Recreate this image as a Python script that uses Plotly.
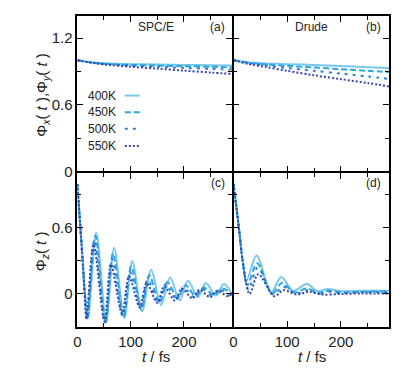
import plotly.graph_objects as go

OFF = 8  # default page body margin
W, H = 405 - OFF, 380 - OFF

labels = ["400K", "450K", "500K", "550K"]
colors = ["#78C8EE", "#2AA6E0", "#2F80D2", "#3646AA"]
dashes = ["solid", "6px,3px", "3px,5px", "2px,2px"]

# Panel (a): SPC/E, Phi_x, Phi_y
a_t = [0, 30, 60, 100, 150, 200, 250, 290]
a_400 = [1.0, 0.98, 0.97, 0.965, 0.962, 0.958, 0.955, 0.953]
a_450 = [1.0, 0.978, 0.966, 0.958, 0.952, 0.946, 0.941, 0.937]
a_500 = [1.0, 0.977, 0.963, 0.952, 0.942, 0.932, 0.923, 0.916]
a_550 = [1.0, 0.975, 0.958, 0.942, 0.925, 0.907, 0.890, 0.877]

# Panel (b): Drude, Phi_x, Phi_y
b_t = [0, 30, 60, 100, 150, 200, 250, 290]
b_400 = [1.0, 0.98, 0.972, 0.965, 0.958, 0.948, 0.938, 0.93]
b_450 = [1.0, 0.978, 0.963, 0.95, 0.935, 0.92, 0.905, 0.894]
b_500 = [1.0, 0.972, 0.955, 0.93, 0.905, 0.88, 0.855, 0.832]
b_550 = [1.0, 0.965, 0.94, 0.905, 0.865, 0.83, 0.795, 0.765]

# Panel (c): SPC/E, Phi_z
c_t400 = [0, 5.5, 10, 14, 20, 35.5, 54, 69, 88, 103, 121.5, 138.5, 157, 174, 192, 207.5, 226, 241, 260, 275, 290]
c_400 = [1.0, 0.62, 0.3, 0.02, -0.22, 0.56, -0.25, 0.42, -0.22, 0.30, -0.16, 0.22, -0.10, 0.15, -0.06, 0.12, -0.03, 0.10, -0.015, 0.09, 0.0]
c_t450 = [0, 5.5, 10, 14, 19, 34, 53, 67, 87, 101, 120, 135, 154, 169, 188, 203, 222, 237, 256, 271, 290]
c_450 = [1.0, 0.62, 0.3, 0.02, -0.22, 0.53, -0.26, 0.37, -0.21, 0.25, -0.14, 0.17, -0.08, 0.11, -0.04, 0.08, -0.02, 0.06, -0.01, 0.05, 0.0]
c_t500 = [0, 5.5, 10, 14, 18, 32, 52, 65, 85, 99, 119, 132, 152, 166, 186, 199, 219, 233, 253, 266, 286]
c_500 = [1.0, 0.62, 0.3, 0.02, -0.22, 0.49, -0.26, 0.32, -0.20, 0.20, -0.13, 0.13, -0.08, 0.09, -0.05, 0.06, -0.03, 0.05, -0.02, 0.04, -0.02]
c_t550 = [0, 5.5, 10, 13.5, 17, 30.5, 51, 63, 84, 97, 117, 130, 150, 163, 183, 196, 216, 229, 249, 262, 282, 290]
c_550 = [1.0, 0.62, 0.3, 0.0, -0.23, 0.45, -0.25, 0.27, -0.18, 0.16, -0.12, 0.10, -0.08, 0.07, -0.06, 0.05, -0.04, 0.04, -0.03, 0.03, -0.02, 0.0]

# Panel (d): Drude, Phi_z
d_t400 = [0, 10, 17, 24, 43, 70, 89, 111, 137, 156, 175, 200, 240, 290]
d_400 = [1.0, 0.6, 0.3, 0.12, 0.35, 0.015, 0.155, 0.03, 0.09, 0.025, 0.045, 0.025, 0.03, 0.03]
d_t450 = [0, 10, 17, 26, 44, 72, 90, 113, 137, 158, 176, 200, 240, 290]
d_450 = [1.0, 0.6, 0.3, 0.08, 0.28, 0.005, 0.10, 0.015, 0.05, 0.01, 0.03, 0.015, 0.02, 0.025]
d_t500 = [0, 10, 17, 28, 45, 74, 92, 116, 138, 160, 178, 200, 240, 290]
d_500 = [1.0, 0.6, 0.3, 0.04, 0.24, -0.005, 0.065, 0.005, 0.035, 0.0, 0.02, 0.01, 0.015, 0.015]
d_t550 = [0, 10, 17, 30, 46, 76, 93, 118, 140, 165, 200, 240, 290]
d_550 = [1.0, 0.6, 0.3, 0.0, 0.18, -0.02, 0.035, -0.005, 0.02, -0.005, 0.0, 0.005, 0.005]

panels = {
    ("x", "y"): [(a_t, a_400), (a_t, a_450), (a_t, a_500), (a_t, a_550)],
    ("x2", "y2"): [(b_t, b_400), (b_t, b_450), (b_t, b_500), (b_t, b_550)],
    ("x3", "y3"): [(c_t400, c_400), (c_t450, c_450), (c_t500, c_500), (c_t550, c_550)],
    ("x4", "y4"): [(d_t400, d_400), (d_t450, d_450), (d_t500, d_500), (d_t550, d_550)],
}

FONT = "Liberation Sans, Arial, Helvetica, sans-serif"
LW = 1.6

def px(x):
    return (x - OFF) / W

def py(y):
    return 1 - (y - OFF) / H

fig = go.Figure()
for (xa, ya), series in panels.items():
    for i, (t, v) in enumerate(series):
        fig.add_trace(go.Scatter(
            x=t, y=v, xaxis=xa, yaxis=ya, mode="lines", name=labels[i],
            line=dict(color=colors[i], dash=dashes[i], width=2, shape="spline", smoothing=0.9),
            showlegend=False,
        ))

xl = [px(74), px(230.2)]
xr = [px(231.8), px(389)]
yt = [py(175), py(16)]
yb = [py(334), py(176.6)]

common = dict(showline=True, linecolor="black", linewidth=LW, mirror="ticks",
              ticks="inside", ticklen=6, tickwidth=1.2, tickcolor="black",
              showgrid=False, zeroline=False,
              tickfont=dict(family=FONT, size=15, color="#222"))

mn = dict(ticks="inside", ticklen=4, tickcolor="black", tickwidth=1.2, showgrid=False)
xcommon = dict(common, range=[0, 290], dtick=100, tick0=0, minor=dict(mn, dtick=50))
ytop = dict(common, range=[0, 1.4], dtick=0.6, tick0=0, minor=dict(mn, dtick=0.3))
ybot = dict(common, range=[-0.3, 1.1], dtick=0.6, tick0=0, minor=dict(mn, dtick=0.3))

fig.update_layout(
    width=W, height=H,
    margin=dict(l=0, r=0, t=0, b=0),
    paper_bgcolor="white", plot_bgcolor="white",
    showlegend=False,
    xaxis=dict(xcommon, domain=xl, anchor="y", showticklabels=False),
    yaxis=dict(ytop, domain=yt, anchor="x"),
    xaxis2=dict(xcommon, domain=xr, anchor="y2", showticklabels=False),
    yaxis2=dict(ytop, domain=yt, anchor="x2", showticklabels=False),
    xaxis3=dict(xcommon, domain=xl, anchor="y3"),
    yaxis3=dict(ybot, domain=yb, anchor="x3"),
    xaxis4=dict(xcommon, domain=xr, anchor="y4"),
    yaxis4=dict(ybot, domain=yb, anchor="x4", showticklabels=False),
)

def ann(text, x, y, size=12, angle=0, xanchor="center"):
    fig.add_annotation(text=text, x=px(x), y=py(y), xref="paper", yref="paper",
                       showarrow=False, textangle=angle, xanchor=xanchor, yanchor="middle",
                       font=dict(family=FONT, size=size, color="#222"))

ann("SPC/E", 153, 27)
ann("(a)", 216, 27)
ann("Drude", 311, 27)
ann("(b)", 373, 27)
ann("(c)", 216, 187)
ann("(d)", 373, 187)
ann("Φ<sub><i>x</i></sub>( <i>t</i> ),Φ<sub><i>y</i></sub>( <i>t</i> )", 38, 97, size=15, angle=-90)
ann("Φ<sub><i>z</i></sub>( <i>t</i> )", 38, 257, size=15, angle=-90)
ann("<i>t</i> / fs", 153, 364, size=15)
ann("<i>t</i> / fs", 311, 364, size=15)

# legend inside panel (a)
rows = [97.5, 114.5, 131.5, 149]
for i, lab in enumerate(labels):
    ann(lab, 99, rows[i], size=12)
    fig.add_shape(type="line", xref="paper", yref="paper",
                  x0=px(122), x1=px(137), y0=py(rows[i]), y1=py(rows[i]),
                  line=dict(color=colors[i], dash=dashes[i], width=2))

fig.write_html("out.html")
